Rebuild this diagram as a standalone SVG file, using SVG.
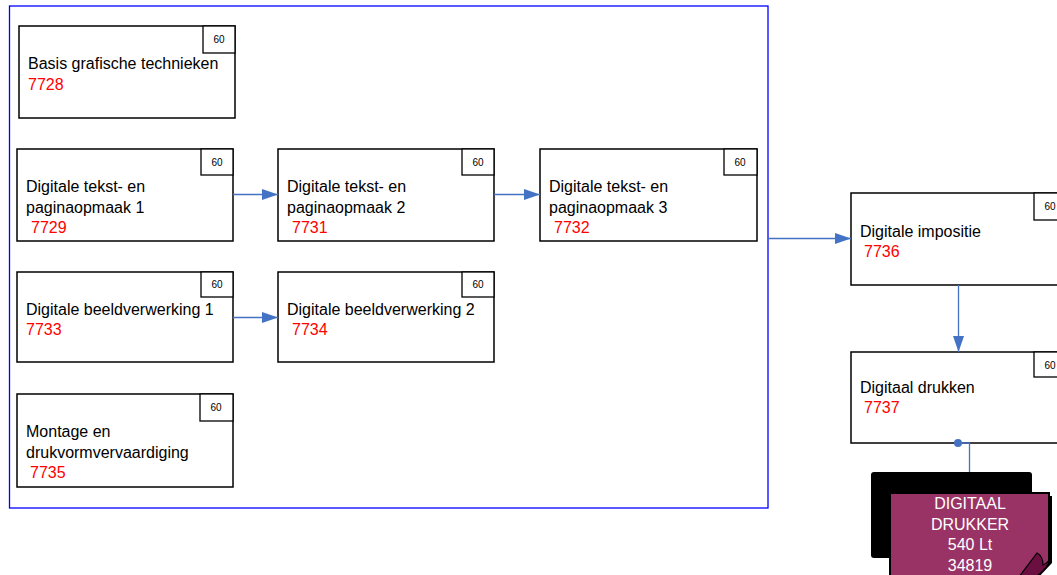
<svg xmlns="http://www.w3.org/2000/svg" width="1057" height="575" viewBox="0 0 1057 575">
<defs>
<style>
.box{fill:#fff;stroke:#000;stroke-width:1.5}
.badge{fill:#fff;stroke:#000;stroke-width:1.3}
.bt{font-family:"Liberation Sans",Arial,sans-serif;font-size:10px;fill:#000;text-anchor:middle}
.t{font-family:"Liberation Sans",Arial,sans-serif;font-size:16px;fill:#000}
.c{font-family:"Liberation Sans",Arial,sans-serif;font-size:16px;fill:#ff0000}
.w{font-family:"Liberation Sans",Arial,sans-serif;font-size:16px;fill:#fff;text-anchor:middle}
.con{stroke:#4472c4;stroke-width:1.3;fill:none}
</style>
<marker id="arr" markerUnits="userSpaceOnUse" markerWidth="17" markerHeight="12" refX="16" refY="6" orient="auto">
<path d="M0,0.5 L16,6 L0,11.5 Z" fill="#4472c4"/>
</marker>
</defs>
<rect id="frame" x="9.5" y="6" width="758.5" height="502" fill="none" stroke="#0000ff" stroke-width="1.3"/>
<g id="n7728">
<rect class="box" x="19" y="26" width="216" height="92"/>
<rect class="badge" x="203" y="26" width="32" height="27"/>
<text class="bt" x="219" y="43">60</text>
<text class="t" x="28" y="69">Basis grafische technieken</text>
<text class="c" x="28" y="90">7728</text>
</g>
<g id="n7729">
<rect class="box" x="17" y="149" width="216" height="92"/>
<rect class="badge" x="201" y="149" width="32" height="26"/>
<text class="bt" x="217" y="166">60</text>
<text class="t" x="26" y="192">Digitale tekst- en</text>
<text class="t" x="26" y="213">paginaopmaak 1</text>
<text class="c" x="31" y="233">7729</text>
</g>
<g id="n7731">
<rect class="box" x="278" y="149" width="216" height="92"/>
<rect class="badge" x="462" y="149" width="32" height="26"/>
<text class="bt" x="478" y="166">60</text>
<text class="t" x="287" y="192">Digitale tekst- en</text>
<text class="t" x="287" y="213">paginaopmaak 2</text>
<text class="c" x="292" y="233">7731</text>
</g>
<g id="n7732">
<rect class="box" x="540" y="149" width="217" height="92"/>
<rect class="badge" x="724" y="149" width="33" height="26"/>
<text class="bt" x="740" y="166">60</text>
<text class="t" x="549" y="192">Digitale tekst- en</text>
<text class="t" x="549" y="213">paginaopmaak 3</text>
<text class="c" x="554" y="233">7732</text>
</g>
<g id="n7733">
<rect class="box" x="17" y="272" width="216" height="90"/>
<rect class="badge" x="201" y="272" width="32" height="25"/>
<text class="bt" x="217" y="288">60</text>
<text class="t" x="26" y="315">Digitale beeldverwerking 1</text>
<text class="c" x="26" y="335">7733</text>
</g>
<g id="n7734">
<rect class="box" x="278" y="272" width="216" height="90"/>
<rect class="badge" x="462" y="272" width="32" height="25"/>
<text class="bt" x="478" y="288">60</text>
<text class="t" x="287" y="315">Digitale beeldverwerking 2</text>
<text class="c" x="292" y="335">7734</text>
</g>
<g id="n7735">
<rect class="box" x="17" y="394" width="216" height="93"/>
<rect class="badge" x="200" y="394" width="33" height="27"/>
<text class="bt" x="216" y="411">60</text>
<text class="t" x="26" y="437">Montage en</text>
<text class="t" x="26" y="458">drukvormvervaardiging</text>
<text class="c" x="30" y="478">7735</text>
</g>
<g id="n7736">
<rect class="box" x="851" y="193" width="216" height="92"/>
<rect class="badge" x="1034" y="193" width="33" height="27"/>
<text class="bt" x="1050" y="210">60</text>
<text class="t" x="860" y="237">Digitale impositie</text>
<text class="c" x="864" y="257">7736</text>
</g>
<g id="n7737">
<rect class="box" x="851" y="352" width="216" height="91"/>
<rect class="badge" x="1034" y="352" width="33" height="25"/>
<text class="bt" x="1050" y="369">60</text>
<text class="t" x="860" y="393">Digitaal drukken</text>
<text class="c" x="864" y="413">7737</text>
</g>
<g id="printer">
<rect x="871" y="472" width="161" height="86" rx="3" fill="#000"/>
<path d="M893,496 H1052 V563 L1036,580 H893 Z" fill="#000"/>
<path d="M890,493 H1049 V561 L1034,578 H890 Z" fill="#993366" stroke="#000" stroke-width="2"/>
<path d="M1019,577 L1037,553 Q1043,556 1043,565 L1050,561 Q1044,572 1034,578 Z" fill="#6a0f40" stroke="#000" stroke-width="1.2"/>
<text class="w" x="970" y="509">DIGITAAL</text>
<text class="w" x="970" y="530">DRUKKER</text>
<text class="w" x="970" y="550">540 Lt</text>
<text class="w" x="970" y="571">34819</text>
</g>
<g id="connectors">
<line class="con" x1="233" y1="194.5" x2="278" y2="194.5" marker-end="url(#arr)"/>
<line class="con" x1="494" y1="194.5" x2="540" y2="194.5" marker-end="url(#arr)"/>
<line class="con" x1="233" y1="317.5" x2="278" y2="317.5" marker-end="url(#arr)"/>
<line class="con" x1="768" y1="238.5" x2="851" y2="238.5" marker-end="url(#arr)"/>
<line class="con" x1="958.5" y1="285" x2="958.5" y2="352" marker-end="url(#arr)"/>
<path class="con" d="M958,443 H969.5 V472"/>
<circle cx="958" cy="443" r="4" fill="#4472c4"/>
</g>
</svg>
